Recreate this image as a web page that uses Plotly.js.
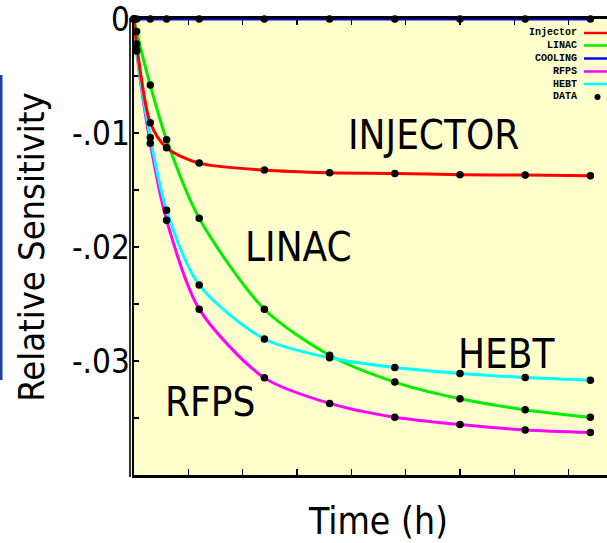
<!DOCTYPE html>
<html>
<head>
<meta charset="utf-8">
<script src="https://cdn.plot.ly/plotly-3.0.1.min.js"></script>
<style>
html, body { margin: 0; padding: 0; overflow: hidden; background: #ffffff; }
#chart { width: 640px; height: 543px; }
</style>
</head>
<body>
<div id="chart"></div>
<script>
// ---- data ----
const time = [0, 0.04, 0.25, 0.5, 1, 2, 3, 4, 5, 6, 7];
const injector = [0, -0.0022, -0.0091, -0.0113, -0.01264, -0.01325, -0.01349, -0.01355, -0.01366, -0.01369, -0.01375];
const linac    = [0, -0.0011, -0.0058, -0.0106, -0.01748, -0.02546, -0.02950, -0.03185, -0.03331, -0.03427, -0.03494];
const cooling  = [0, 0, 0, 0, 0, 0, 0, 0, 0, 0, 0];
const rfps     = [0, -0.0028, -0.0109, -0.01765, -0.02545, -0.03148, -0.03372, -0.03494, -0.03558, -0.03605, -0.03628];
const hebt     = [0, -0.0027, -0.0104, -0.01678, -0.02333, -0.02807, -0.02972, -0.03058, -0.03110, -0.03145, -0.03168];

const seriesNames = ['Injector', 'LINAC', 'COOLING', 'RFPS', 'HEBT'];
const seriesData = [injector, linac, cooling, rfps, hebt];
const seriesColors = ['#ff0000', '#00ee00', '#0000ff', '#ff00ff', '#00ffff'];

const yTickVals = [0, -0.01, -0.02, -0.03];
const yTickText = ['0', '-.01', '-.02', '-.03'];
const yMinorVals = [-0.005, -0.015, -0.025, -0.035];

const curveLabels = ['INJECTOR', 'LINAC', 'HEBT', 'RFPS'];
const curveLabelX = [4.59, 2.53, 5.71, 1.17];
const curveLabelY = [-0.0102, -0.0200, -0.0294, -0.0336];

// ---- geometry helpers (layout only) ----
const L = 134, T = 19, PW = 489, PH = 456;
const px = v => (v - L) / PW;
const py = v => (T + PH - v) / PH;

const traces = [];
// draw order: LINAC, RFPS, HEBT, Injector, COOLING
[1, 3, 4, 0, 2].forEach(i => {
  traces.push({
    type: 'scatter', mode: 'lines', name: seriesNames[i],
    x: time, y: seriesData[i],
    line: { color: seriesColors[i], width: 3, shape: 'spline', smoothing: 0.8 },
    cliponaxis: false, hoverinfo: 'skip'
  });
});
// DATA markers
const dataX = [], dataY = [];
seriesData.forEach(arr => { arr.forEach((v, k) => { dataX.push(time[k]); dataY.push(v); }); });
traces.push({
  type: 'scatter', mode: 'markers', name: 'DATA',
  x: dataX, y: dataY,
  marker: { color: '#000000', size: 7.5, symbol: 'circle' },
  cliponaxis: false
});

const FONT = 'DejaVu Sans Condensed, DejaVu Sans, sans-serif';

const annotations = curveLabels.map((t, i) => ({
  x: curveLabelX[i], y: curveLabelY[i], xref: 'x', yref: 'y',
  text: t, showarrow: false, font: { family: FONT, size: 40, color: '#000' }
}));

// legend (symbols to the right of the labels, as in the reference)
const legNames = ['Injector', 'LINAC', 'COOLING', 'RFPS', 'HEBT', 'DATA'];
const legY = [33, 45.5, 58.5, 71.5, 84, 97];
const shapes = [];
legNames.forEach((n, i) => {
  annotations.push({
    x: px(579), y: py(legY[i]), xref: 'paper', yref: 'paper',
    xanchor: 'right', yanchor: 'middle', text: '<b>' + n + '</b>', showarrow: false,
    font: { family: 'Liberation Mono, monospace', size: 10, color: '#000' }
  });
  if (i < 5) {
    shapes.push({ type: 'line', xref: 'paper', yref: 'paper',
      x0: px(584), x1: px(615), y0: py(legY[i]), y1: py(legY[i]),
      line: { color: seriesColors[i], width: 2.5 } });
  } else {
    shapes.push({ type: 'circle', xref: 'paper', yref: 'paper',
      x0: px(594.5), x1: px(600.5), y0: py(legY[i] + 3), y1: py(legY[i] - 3),
      fillcolor: '#000', line: { color: '#000', width: 0 } });
  }
});
// second (outer) left frame line
shapes.push({ type: 'line', xref: 'paper', yref: 'paper',
  x0: px(130), x1: px(130), y0: py(477), y1: py(18),
  line: { color: '#000', width: 1.6 } });
// blue rule at far left of the figure
shapes.push({ type: 'line', xref: 'paper', yref: 'paper',
  x0: px(1), x1: px(1), y0: py(75), y1: py(380),
  line: { color: '#1a3fa8', width: 3 } });

const layout = {
  width: 640, height: 543,
  margin: { l: L, r: 640 - L - PW, t: T, b: 543 - T - PH, pad: 0 },
  paper_bgcolor: '#ffffff', plot_bgcolor: '#ffffcc',
  showlegend: false,
  xaxis: {
    range: [0, 7.5], tick0: 0, dtick: 5 / 6,
    showgrid: false, zeroline: false, showticklabels: false,
    ticks: 'inside', ticklen: 6, tickwidth: 1.5, tickcolor: '#000',
    showline: true, linecolor: '#000', linewidth: 3, mirror: 'ticks',
    layer: 'below traces',
    title: { text: 'Time (h)', font: { family: FONT, size: 37, color: '#000' }, standoff: 41 }
  },
  yaxis: {
    range: [-0.04, 0],
    tickmode: 'array', tickvals: yTickVals, ticktext: yTickText,
    showgrid: false, zeroline: false,
    ticks: 'inside', ticklen: 5, tickwidth: 1.5, tickcolor: '#000',
    minor: { tickmode: 'array', tickvals: yMinorVals, ticks: 'inside', ticklen: 5, tickwidth: 1.5, tickcolor: '#000', showgrid: false },
    showline: true, linecolor: '#000', linewidth: 1.6,
    layer: 'below traces',
    ticklabeloverflow: 'allow', ticklabelstandoff: -4,
    tickfont: { family: FONT, size: 33, color: '#000' },
    title: { text: 'Relative Sensitivity\u2007', font: { family: FONT, size: 36, color: '#000' }, standoff: 16 }
  },
  annotations: annotations,
  shapes: shapes
};

Plotly.newPlot('chart', traces, layout, { staticPlot: true, displayModeBar: false });
</script>
</body>
</html>
